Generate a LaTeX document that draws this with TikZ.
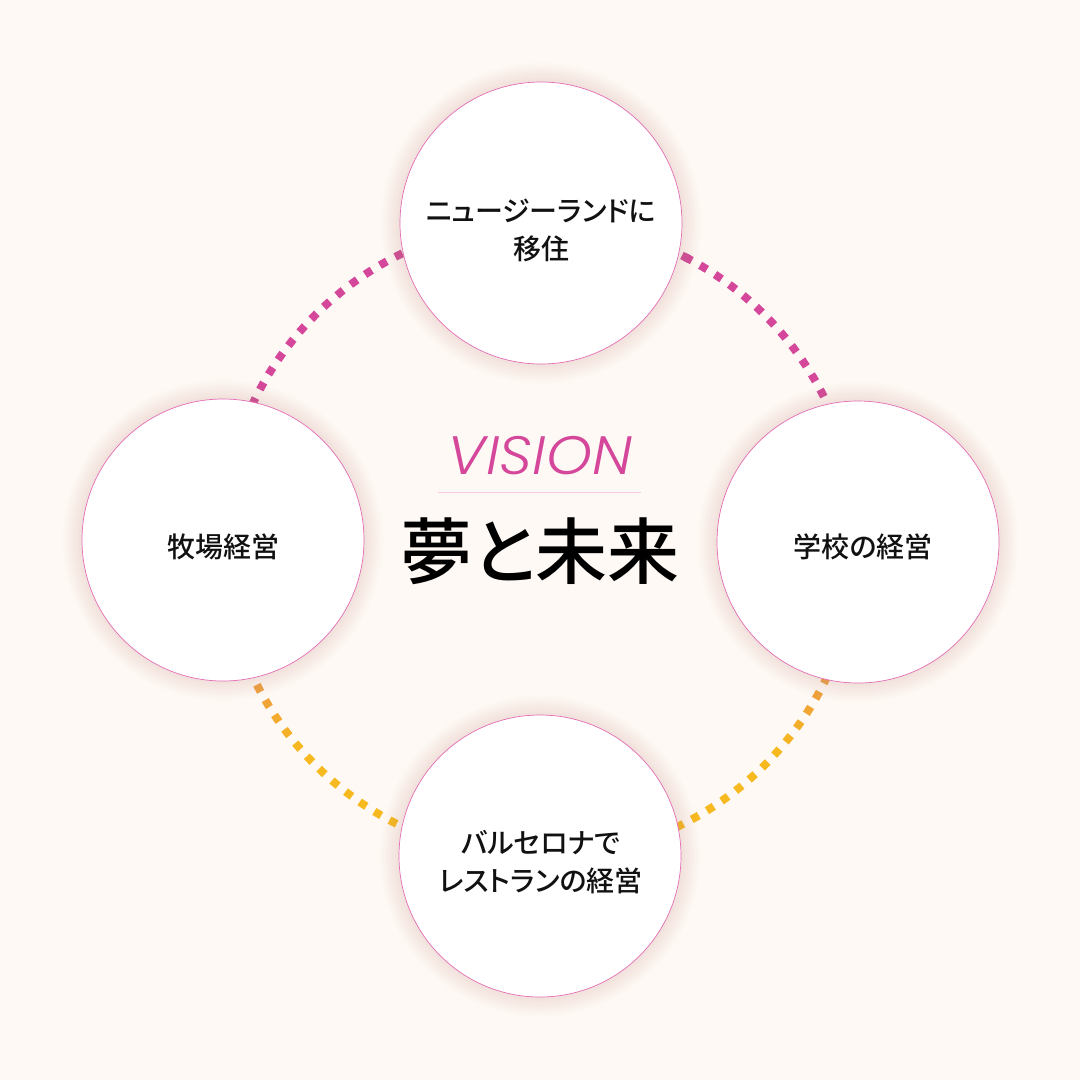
\documentclass[tikz,border=0pt]{standalone}
\usepackage{fontspec}
\newfontfamily\jp{Noto Sans CJK JP Medium}[RawFeature=+palt]
\newfontfamily\visionfont{Poppins Light Italic}
\definecolor{bg}{HTML}{FEF9F4}
\definecolor{mag}{HTML}{D4479A}
\definecolor{yel}{HTML}{F6B91F}
\definecolor{rim}{HTML}{E36CB4}
\definecolor{rulec}{HTML}{F5C9E1}
\definecolor{shadec}{HTML}{C9A48A}
\definecolor{ink}{HTML}{111111}
\tikzset{
  bubble/.style={circle, minimum size=282pt, inner sep=0pt, fill=white, draw=rim, line width=0.7pt},
  bubbletext/.style={font=\jp\fontsize{28}{38}\selectfont, align=center, text=ink},
  halo/.style={fill=shadec, fill opacity=0.016},
}
\begin{document}
\begin{tikzpicture}[x=1pt,y=-1pt]
\useasboundingbox (0,0) rectangle (1080,1080);
\fill[bg] (0,0) rectangle (1080,1080);
% dotted ring
\begin{scope}[shift={(540,540)}]
\foreach \k in {0,...,114} {
  \pgfmathsetmacro\a{-62.2+\k*3.153}
  \pgfmathsetmacro\yy{540+318*sin(\a)}
  \pgfmathsetmacro\f{min(100,max(0,(\yy-500)/250*100))}
  \colorlet{dotc}{yel!\f!mag}
  \fill[dotc] ({\a-0.72}:314) -- ({\a+0.72}:314) -- ({\a+0.72}:322) -- ({\a-0.72}:322) -- cycle;
}
\end{scope}
% halos
\foreach \c in {(541,223),(223,540),(858,542),(540,856)} {
  \foreach \d in {1,...,12} {
    \fill[halo] \c circle ({141+1.6*\d});
  }
}
% bubbles
\node[bubble] (nz) at (541,223) {};
\node[bubble] (farm) at (223,540) {};
\node[bubble] (school) at (858,542) {};
\node[bubble] (bcn) at (540,856) {};
\node[bubbletext] (nzt) at (541,230) {ニュージーランドに\\移住};
\node[bubbletext] (farmt) at (223,547) {牧場経営};
\node[bubbletext] (schoolt) at (863,547) {学校の経営};
\node[bubbletext] (bcnt) at (541,862) {バルセロナで\\レストランの経営};
% center
\node[font=\visionfont\fontsize{54}{60}\selectfont, text=mag] (vis) at (540,456) {\scalebox{1.08}[1]{VISION}};
\coordinate (rl) at (438,492);
\coordinate (rr) at (641,492);
\draw[rulec, line width=1pt] (rl) -- (rr);
\node[font=\jp\fontsize{72}{80}\selectfont, text=black] (title) at (540,551) {夢と未来};
\end{tikzpicture}
\end{document}
